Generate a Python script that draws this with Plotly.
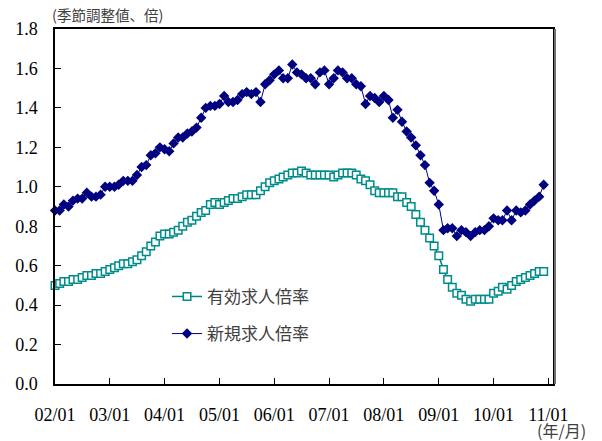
import pandas as pd
import plotly.graph_objects as go

#Monthly data, Jan 2002 - Dec 2010 (seasonally adjusted)
months=pd.date_range("2002-01-01","2010-12-01",freq="MS")

#有効求人倍率
yuko_ratio=[0.50,0.51,0.52,0.52,0.53,0.53,0.54,0.55,0.55,0.56,0.56,0.57,
            0.58,0.59,0.60,0.61,0.61,0.62,0.63,0.65,0.67,0.70,0.72,0.75,
            0.76,0.76,0.77,0.78,0.80,0.82,0.83,0.85,0.87,0.88,0.91,0.92,
            0.91,0.92,0.93,0.94,0.94,0.95,0.96,0.96,0.96,0.98,1.00,1.02,
            1.03,1.04,1.05,1.06,1.07,1.07,1.08,1.07,1.06,1.06,1.06,1.06,
            1.06,1.05,1.06,1.07,1.07,1.07,1.06,1.04,1.03,1.01,0.98,0.97,
            0.97,0.97,0.97,0.95,0.95,0.92,0.90,0.86,0.82,0.78,0.74,0.70,
            0.65,0.58,0.53,0.49,0.46,0.45,0.43,0.42,0.43,0.43,0.43,0.43,
            0.46,0.47,0.49,0.48,0.50,0.52,0.53,0.54,0.55,0.56,0.57,0.57]

#新規求人倍率
shinki_ratio=[0.88,0.88,0.91,0.90,0.93,0.94,0.94,0.97,0.95,0.95,0.96,1.00,
              1.00,1.00,1.01,1.03,1.03,1.03,1.06,1.10,1.11,1.16,1.17,1.20,
              1.19,1.18,1.22,1.25,1.25,1.27,1.28,1.30,1.35,1.40,1.41,1.41,
              1.42,1.46,1.43,1.43,1.44,1.47,1.48,1.47,1.48,1.43,1.52,1.54,
              1.57,1.59,1.55,1.55,1.62,1.58,1.57,1.55,1.55,1.52,1.58,1.59,
              1.52,1.55,1.59,1.58,1.55,1.55,1.52,1.51,1.42,1.46,1.45,1.43,
              1.46,1.44,1.35,1.39,1.33,1.28,1.25,1.21,1.16,1.11,1.02,0.98,
              0.91,0.78,0.79,0.79,0.75,0.78,0.77,0.75,0.77,0.78,0.78,0.80,
              0.84,0.83,0.83,0.88,0.83,0.88,0.87,0.88,0.91,0.93,0.95,1.01]

#Tick labels for the x-axis (year/month)
tick_dates=["%d-01-01"%y for y in range(2002,2012)]
tick_labels=["02/01","03/01","04/01","05/01","06/01","07/01","08/01","09/01","10/01","11/01"]

jp_font="Noto Sans CJK JP"
num_font="Liberation Serif, Times New Roman, Times, serif"

fig=go.Figure()

#Effective ratio: teal line with hollow squares
fig.add_trace(go.Scatter(x=months,y=yuko_ratio,mode="lines+markers",name="有効求人倍率",legendgroup="a",
                         line=dict(color="#008080",width=1.5),cliponaxis=False,
                         marker=dict(symbol="square",size=7.5,color="white",line=dict(color="#008b8b",width=1.5))))

#New openings ratio: navy line with diamonds
fig.add_trace(go.Scatter(x=months,y=shinki_ratio,mode="lines+markers",name="新規求人倍率",legendgroup="b",
                         line=dict(color="#000080",width=1),cliponaxis=False,
                         marker=dict(symbol="diamond",size=8,color="#000080")))

#Axes (automargin off so the plot box stays where the margins put it)
fig.update_xaxes(range=["2002-01-01","2011-02-01"],tickvals=tick_dates,ticktext=tick_labels,automargin=False,
                 ticks="inside",ticklen=6,tickcolor="black",showline=True,linecolor="black",linewidth=1.5,
                 mirror=True,showgrid=False,zeroline=False,ticklabelstandoff=14,
                 tickfont=dict(family=num_font,size=18,color="black"))
fig.update_yaxes(range=[0,1.8],dtick=0.2,tickformat=".1f",automargin=False,
                 ticks="inside",ticklen=6,tickcolor="black",showline=True,linecolor="black",linewidth=1.5,
                 mirror=True,showgrid=False,zeroline=False,ticklabelstandoff=12,
                 tickfont=dict(family=num_font,size=18,color="black"))

#Gray shadow on the right border
fig.add_shape(type="line",xref="paper",yref="paper",x0=1.004,x1=1.004,y0=0,y1=1,line=dict(color="#707070",width=2))

#Texts around the plot
fig.add_annotation(text="(季節調整値、倍)",xref="paper",yref="paper",x=-0.01,y=1.041,xanchor="left",yanchor="middle",
                   showarrow=False,font=dict(family=jp_font,size=14.5,color="#404040"))
fig.add_annotation(text="(年/月)",xref="paper",yref="paper",x=1.07,y=-0.13,xanchor="right",yanchor="middle",
                   showarrow=False,font=dict(family=jp_font,size=16,color="#404040"))
fig.add_annotation(text="資料出所　厚生労働省「職業安定業務統計」",xref="paper",yref="paper",x=0.11,y=-0.1525,xanchor="left",yanchor="top",
                   showarrow=False,font=dict(family=jp_font,size=16,color="#404040"))

#The page has an 8px body margin, so the figure is drawn 8px smaller than the window
fig.update_layout(width=594,height=433,margin=dict(l=47,r=49,t=21,b=57),
                  paper_bgcolor="white",plot_bgcolor="white",
                  legend=dict(x=0.225,y=0.296,xanchor="left",yanchor="top",bgcolor="rgba(0,0,0,0)",
                              tracegroupgap=12,font=dict(family=jp_font,size=17,color="#404040")))

fig.write_html("out.html")
